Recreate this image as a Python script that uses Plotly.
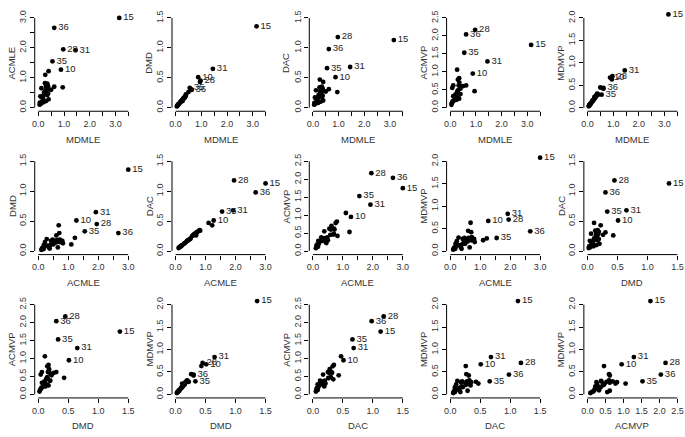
import plotly.graph_objects as go

# ---- data (36 observations) ----
ACMLE = [0.10, 0.12, 0.14, 0.17, 0.20, 0.22, 0.30, 0.35, 0.38, 1.27,
         0.40, 0.42, 0.45, 0.48, 3.00, 1.10, 1.22, 0.68, 0.60, 0.70,
         0.50, 0.55, 0.58, 0.62, 0.65, 0.70, 0.72, 1.95, 0.76, 0.80,
         1.92, 0.82, 0.28, 0.18, 1.55, 2.67]
MDMLE = [0.05, 0.08, 0.10, 0.06, 0.15, 0.30, 0.18, 0.12, 0.08, 0.88,
         0.20, 0.35, 0.25, 0.38, 3.15, 0.27, 0.40, 0.95, 0.50, 0.62,
         0.22, 0.33, 0.28, 0.36, 0.12, 0.30, 0.38, 0.97, 0.30, 0.35,
         1.45, 0.26, 0.40, 0.20, 0.55, 0.62]
DMD = [0.02, 0.04, 0.05, 0.03, 0.07, 0.15, 0.09, 0.06, 0.04, 0.51,
       0.10, 0.17, 0.12, 0.19, 1.36, 0.11, 0.22, 0.43, 0.26, 0.30,
       0.11, 0.16, 0.14, 0.18, 0.06, 0.15, 0.19, 0.45, 0.15, 0.17,
       0.65, 0.13, 0.20, 0.10, 0.33, 0.30]
DAC = [0.05, 0.06, 0.07, 0.08, 0.09, 0.10, 0.13, 0.15, 0.17, 0.51,
       0.17, 0.18, 0.19, 0.20, 1.13, 0.47, 0.43, 0.26, 0.27, 0.31,
       0.21, 0.25, 0.26, 0.28, 0.29, 0.30, 0.32, 1.18, 0.33, 0.35,
       0.68, 0.34, 0.12, 0.08, 0.66, 0.98]
ACMVP = [0.08, 0.15, 0.18, 0.12, 0.20, 0.27, 0.28, 0.32, 0.55, 0.95,
         0.36, 0.25, 0.22, 0.38, 1.75, 1.06, 0.53, 0.46, 0.60, 0.62,
         0.30, 0.62, 0.45, 0.70, 0.62, 0.48, 0.60, 2.17, 0.78, 0.82,
         1.29, 0.42, 0.38, 0.28, 1.53, 2.04]
MDMVP = [0.03, 0.06, 0.08, 0.05, 0.11, 0.22, 0.13, 0.09, 0.05, 0.67,
         0.15, 0.27, 0.18, 0.29, 2.08, 0.24, 0.28, 0.63, 0.45, 0.42,
         0.16, 0.26, 0.21, 0.29, 0.08, 0.24, 0.31, 0.70, 0.24, 0.27,
         0.83, 0.20, 0.30, 0.16, 0.29, 0.44]
LABELED = [10, 15, 28, 31, 35, 36]

DATA = {"ACMLE": ACMLE, "MDMLE": MDMLE, "DMD": DMD, "DAC": DAC,
        "ACMVP": ACMVP, "MDMVP": MDMVP}
AXMAX = {"ACMLE": 3.0, "MDMLE": 3.5, "DMD": 1.5, "DAC": 1.5,
         "ACMVP": 2.5, "MDMVP": 2.0}
TICKTEXT = {
    "ACMLE": ["0.0", "", "1.0", "", "2.0", "", "3.0"],
    "MDMLE": ["0.0", "", "1.0", "", "2.0", "", "3.0", ""],
    "DMD": ["0.0", "0.5", "1.0", "1.5"],
    "DAC": ["0.0", "0.5", "1.0", "1.5"],
    "ACMVP": ["0.0", "0.5", "1.0", "1.5", "2.0", "2.5"],
    "MDMVP": ["0.0", "0.5", "1.0", "1.5", "2.0"],
}
PAIRS = [("MDMLE", "ACMLE"), ("MDMLE", "DMD"), ("MDMLE", "DAC"), ("MDMLE", "ACMVP"), ("MDMLE", "MDMVP"),
         ("ACMLE", "DMD"), ("ACMLE", "DAC"), ("ACMLE", "ACMVP"), ("ACMLE", "MDMVP"), ("DMD", "DAC"),
         ("DMD", "ACMVP"), ("DMD", "MDMVP"), ("DAC", "ACMVP"), ("DAC", "MDMVP"), ("ACMVP", "MDMVP")]

W, H = 685, 437
FONT = "Liberation Sans, Arial, Helvetica, sans-serif"
labels = [str(i + 1) if (i + 1) in LABELED else "" for i in range(36)]

fig = go.Figure()
layout = dict(width=W, height=H, margin=dict(l=0, r=0, t=0, b=0),
              paper_bgcolor="white", plot_bgcolor="white", showlegend=False,
              font=dict(family=FONT, color="#222"))
shapes, annotations = [], []

for k, (xv, yv) in enumerate(PAIRS):
    r, c = divmod(k, 5)
    left = 32 + 138.5 * c
    top = 10.5 + 145 * r
    w = h = 98
    n = "" if k == 0 else str(k + 1)
    fig.add_trace(go.Scatter(
        x=DATA[xv], y=DATA[yv], mode="markers+text", text=labels,
        textposition="middle right",
        textfont=dict(size=9.5, color="#222", family=FONT),
        marker=dict(color="black", size=4.8, line=dict(width=0)),
        xaxis="x" + n, yaxis="y" + n, cliponaxis=False, hoverinfo="skip"))
    for ax, var, dom in (("xaxis", xv, [left / W, (left + w) / W]),
                         ("yaxis", yv, [1 - (top + h) / H, 1 - top / H])):
        m = AXMAX[var]
        tv = [i * 0.5 for i in range(int(round(m / 0.5)) + 1)]
        d = dict(domain=dom, range=[-0.04 * m, 1.04 * m], tickvals=tv,
                 ticktext=TICKTEXT[var], ticks="outside", ticklen=4,
                 tickwidth=1, tickcolor="black", showline=False,
                 showgrid=False, zeroline=False, fixedrange=True,
                 tickfont=dict(size=9, color="#333", family=FONT),
                 anchor=("y" + n) if ax == "xaxis" else ("x" + n))
        if ax == "yaxis":
            d["tickangle"] = -90
        layout[ax + n] = d
    xm, ym = AXMAX[xv], AXMAX[yv]
    shapes.append(dict(type="line", xref="x" + n, yref="y" + n + " domain",
                       x0=0, x1=xm, y0=0, y1=0, line=dict(color="black", width=1)))
    shapes.append(dict(type="line", xref="x" + n + " domain", yref="y" + n,
                       x0=0, x1=0, y0=0, y1=ym, line=dict(color="black", width=1)))
    annotations.append(dict(text=xv, xref="x" + n + " domain", yref="y" + n + " domain",
                            x=0.5, y=0, yshift=-28, showarrow=False,
                            font=dict(size=9.5, color="#333", family=FONT),
                            xanchor="center", yanchor="middle"))
    annotations.append(dict(text=yv, xref="x" + n + " domain", yref="y" + n + " domain",
                            x=0, y=0.5, xshift=-23, textangle=-90, showarrow=False,
                            font=dict(size=9.5, color="#333", family=FONT),
                            xanchor="center", yanchor="middle"))

layout["shapes"] = shapes
layout["annotations"] = annotations
fig.update_layout(**layout)
fig.write_html("out.html", config={"displayModeBar": False, "staticPlot": True},
               post_script="document.body.style.margin='0';document.body.style.overflow='hidden';")
